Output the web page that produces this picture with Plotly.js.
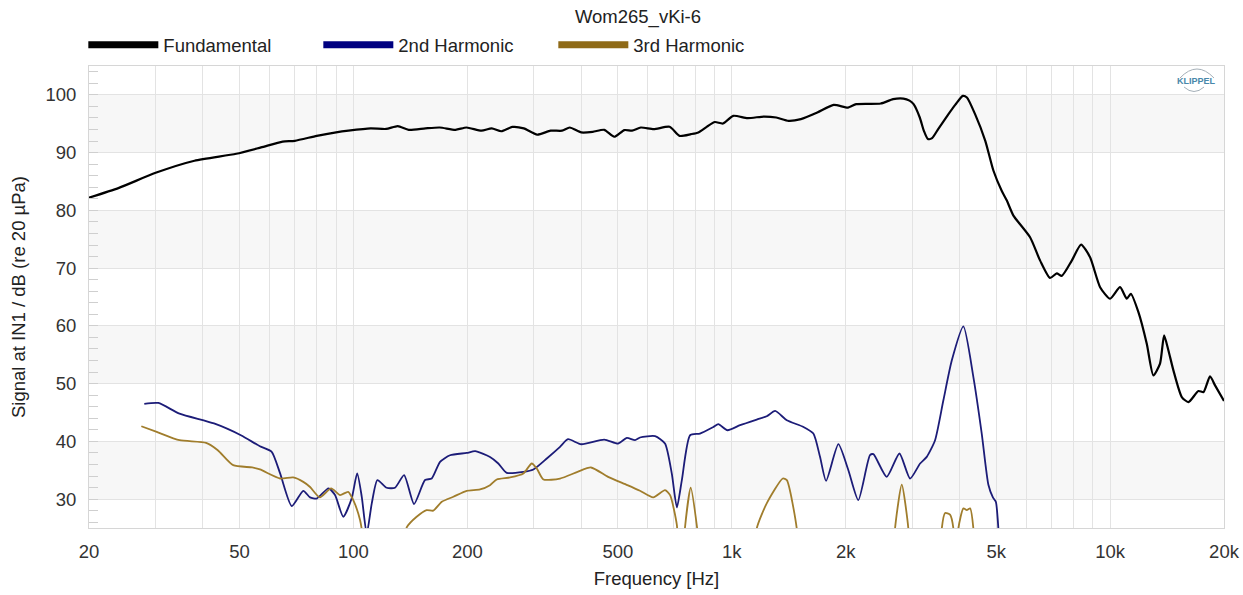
<!DOCTYPE html>
<html>
<head>
<meta charset="utf-8">
<script src="https://cdn.plot.ly/plotly-3.0.1.min.js"></script>
<style>html,body{margin:0;padding:0;background:#fff;}#chart{width:1243px;height:595px;}</style>
</head>
<body>
<div id="chart"></div>
<script>
// ---- data ----
var fundFreq = [20,24,30,38,49,57,65,70,80,90,97,111,122,131,140,155,169,186,199,218,232,246,263,282,306,332,356,373,400,429,460,489,520,545,575,622,685,728,780,816,860,902,948,1009,1101,1217,1311,1413,1523,1683,1859,2029,2132,2476,2669,2842,2950,3024,3140,3218,3300,3384,3512,3739,3900,4080,4183,4396,4678,4917,5169,5334,5552,6144,6532,6939,7228,7451,7919,8380,8853,9409,10000,10625,11067,11342,11880,12500,13010,13550,13890,14260,14700,15470,16110,17120,17660,18370,18940,20000];
var fundDb   = [82.2,83.9,86.5,88.6,89.8,90.9,91.9,92.05,92.9,93.5,93.8,94.2,94.1,94.6,93.95,94.2,94.35,93.95,94.35,93.8,94.2,93.7,94.45,94.2,93.1,93.8,93.8,94.35,93.5,93.6,93.95,92.75,93.9,93.8,94.35,94.07,94.47,92.9,93.2,93.5,94.5,95.3,95.04,96.37,95.97,96.25,96.08,95.5,95.8,96.94,98.27,97.8,98.39,98.5,99.26,99.36,99.0,98.39,96.08,93.8,92.34,92.5,94.07,96.66,98.3,99.83,99.54,96.66,92.05,86.86,83.4,81.7,79.1,75.34,71.3,68.3,69.1,68.66,71.3,74.07,71.88,66.7,64.7,66.7,64.7,65.56,62.37,56.9,51.43,53.46,58.35,55.75,52.3,47.68,46.8,48.72,48.55,51.26,49.7,47.0];

var h2Freq = [28,30.5,34.7,42.8,50.4,56.6,60.8,64,68.7,73.7,76.8,80,85.9,89.4,94,98.9,102.3,105.2,108.4,111.8,115.7,122.4,128.8,136.1,144.6,154.6,161,169.4,180,199.3,209.8,229.6,241.5,254.2,281.3,299,324.4,351.6,369,400,460,501,528,555,572,627,666,694,716,738,776,824,894,921.5,974,1052,1164,1237,1302,1398,1547,1643,1711,1775,1913,2033,2160,2319,2368,2568,2774,2960,3146,3276,3446,3625,3816,4095,4351,4578,4767,4900,4990,5066,5150];
var h2Db   = [46.5,46.65,44.8,43.1,41.06,39.16,38.2,34.45,28.8,31.44,30.3,30.1,31.85,30.7,26.95,30.1,34.45,30.4,24.0,29.26,33.3,31.97,31.97,34.16,29.15,33.3,33.57,36.45,37.6,38.0,38.3,37.3,36.17,34.55,34.72,35.14,37.04,39.05,40.37,39.5,40.32,39.63,40.6,40.2,40.67,40.9,39.63,34.45,28.56,33.3,41.06,41.36,42.5,42.97,41.93,42.8,43.78,44.35,45.27,43.66,42.5,41.36,37.32,33.17,39.51,35.0,29.83,37.61,37.78,33.86,37.9,33.57,36.17,37.32,40.2,47.11,54.03,59.9,51.14,41.36,32.5,30.3,29.5,24.9,18];

var h3Freq = [27.5,30.2,34.7,40.8,43.8,48.1,54,56.6,64,69.3,73.7,76.8,81.5,87.3,92.2,96.8,99.9,104.1,107,112,132,138.3,146.9,156.1,162.6,171.2,183.7,199.3,216.1,229.6,239.2,259.4,281.3,296,305.2,317.8,351.6,391.2,424.4,471,529.7,572,620,666,687,716,725,745,752,779,810,824,1150,1164,1237,1364,1398,1485,1500,2680,2701,2814,2929,2950,3570,3590,3663,3775,3853,3880,3940,3970,4095,4180,4265,4351,4380];
var h3Db   = [42.62,41.64,40.2,39.74,38.47,35.88,35.48,35.14,33.57,33.75,32.99,32.1,30.3,31.85,30.7,31.27,29.83,26.4,22,18,18,25.1,26.95,28.1,28.0,29.54,30.41,31.44,31.68,32.42,33.4,33.75,34.45,36.17,35.3,33.4,33.57,34.72,35.48,33.86,32.42,31.44,30.3,31.56,30.7,25.5,20,20,25.0,31.97,25.0,20,18,24.9,29.26,33.57,33.28,24.9,18,18,24.9,32.5,24.9,18,18,24.9,27.6,27.3,24.9,18,18,24.9,28.4,28.1,28.4,24.9,18];

var xGridVals = [20,30,40,50,60,70,80,90,100,200,300,400,500,600,700,800,900,1000,2000,3000,4000,5000,6000,7000,8000,9000,10000,20000];
var xTickText = ['20','','','50','','','','','100','200','','','500','','','','','1k','2k','','','5k','','','','','10k','20k'];
var yTickVals = [30,40,50,60,70,80,90,100];
var bandRanges = [[30,40],[50,60],[70,80],[90,100]];

var seriesNames = ['Fundamental','2nd Harmonic','3rd Harmonic'];
var seriesColors = ['#000000','#1c1c78','#a07d2c'];
var legendColors = ['#000000','#000080','#8f6a17'];

var font = 'Liberation Sans, Arial, sans-serif';

var traces = [
  {x: fundFreq, y: fundDb, name: seriesNames[0], type:'scatter', mode:'lines', line:{color:seriesColors[0], width:2.2, shape:'spline', smoothing:0.6}, showlegend:false},
  {x: h2Freq, y: h2Db, name: seriesNames[1], type:'scatter', mode:'lines', line:{color:seriesColors[1], width:1.8, shape:'spline', smoothing:0.6}, showlegend:false},
  {x: h3Freq, y: h3Db, name: seriesNames[2], type:'scatter', mode:'lines', line:{color:seriesColors[2], width:1.8, shape:'spline', smoothing:0.6}, showlegend:false}
];
// legend entries (thick keys like the reference)
seriesNames.forEach(function(n, i){
  traces.push({x:[null], y:[null], name:n, type:'scatter', mode:'lines', line:{color:legendColors[i], width:7}, showlegend:true, hoverinfo:'skip'});
});

var shapes = bandRanges.map(function(r){
  return {type:'rect', xref:'paper', yref:'y', x0:0, x1:1, y0:r[0], y1:r[1], fillcolor:'#f7f7f7', line:{width:0}, layer:'below'};
});
// Klippel logo arcs
shapes.push({type:'path', xref:'paper', yref:'paper', path:'M 0.9612 0.974 Q 0.9762 1.013 0.9912 0.974', line:{color:'#a5b0b8', width:1}});
shapes.push({type:'path', xref:'paper', yref:'paper', path:'M 0.9648 0.9545 Q 0.9736 0.935 0.9824 0.9545', line:{color:'#a5b0b8', width:1}});

var layout = {
  width:1243, height:595,
  margin:{l:89, r:19, t:66, b:67},
  paper_bgcolor:'#ffffff', plot_bgcolor:'#ffffff',
  font:{family:font, color:'#333333', size:18.5},
  title:{text:'Wom265_vKi-6', x:0.4837, xref:'paper', xanchor:'center', y:0.973, yanchor:'middle', font:{family:font, size:18.5, color:'#222222'}},
  showlegend:true,
  legend:{orientation:'h', x:-0.005, xanchor:'left', y:1.045, yanchor:'middle', itemwidth:70, entrywidth:150, entrywidthmode:'pixels',
          font:{family:font, size:18.5, color:'#222222'}, bgcolor:'rgba(0,0,0,0)', itemclick:false},
  xaxis:{type:'log', range:[Math.log10(20), Math.log10(20000)], tickmode:'array', tickvals:xGridVals, ticktext:xTickText,
         showgrid:true, gridcolor:'#e3e3e3', gridwidth:1, showline:true, mirror:true, linecolor:'#d6d6d6', linewidth:1,
         ticks:'', tickfont:{family:font, size:18.5, color:'#333333'}, ticklabelstandoff:7,
         title:{text:'Frequency [Hz]', font:{family:font, size:18.5, color:'#222222'}, standoff:10}, zeroline:false},
  yaxis:{range:[25,105], tickmode:'array', tickvals:yTickVals, showgrid:true, gridcolor:'#e3e3e3', gridwidth:1,
         showline:true, mirror:true, linecolor:'#d6d6d6', linewidth:1, zeroline:false,
         ticks:'', tickfont:{family:font, size:18.5, color:'#333333'}, ticklabelstandoff:8,
         minor:{dtick:2, tick0:0, ticks:'inside', ticklen:9, tickcolor:'#cfcfcf', tickwidth:1, showgrid:false},
         title:{text:'Signal at IN1 / dB (re 20 µPa)', font:{family:font, size:18.5, color:'#222222'}, standoff:14}},
  shapes: shapes,
  annotations:[
    {xref:'paper', yref:'paper', x:0.976, y:0.9675, xanchor:'center', yanchor:'middle', showarrow:false, text:'<b>KLIPPEL</b>', font:{family:font, size:9, color:'#4a87aa'}}
  ]
};

Plotly.newPlot('chart', traces, layout, {displayModeBar:false, staticPlot:true});
</script>
</body>
</html>
